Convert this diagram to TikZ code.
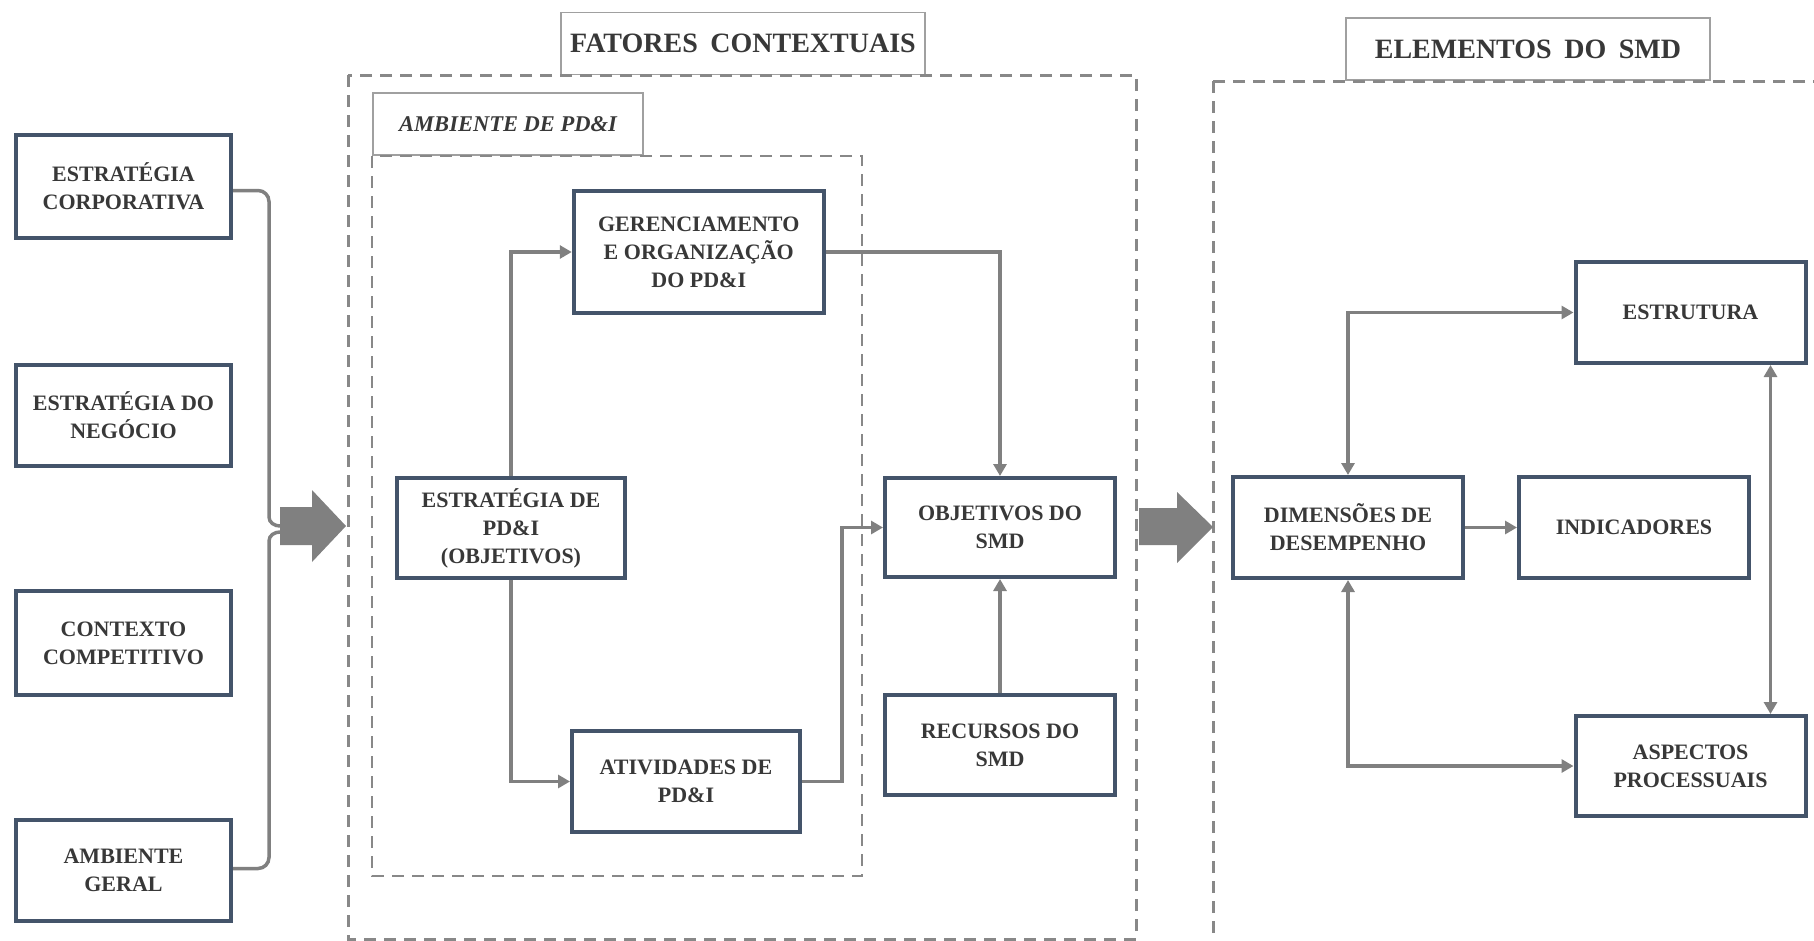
\documentclass[tikz,border=0pt]{standalone}
\usepackage{fontspec}
\setmainfont{Liberation Serif}
\usetikzlibrary{arrows.meta,calc}
\definecolor{boxline}{HTML}{44546A}
\definecolor{txt}{HTML}{383838}
\definecolor{linkgray}{HTML}{808080}
\definecolor{framegray}{HTML}{888888}
\definecolor{lblgray}{HTML}{A0A0A0}

\begin{document}
\begin{tikzpicture}[x=1pt,y=-1pt,
  block/.style={draw=boxline, line width=4pt, fill=white, text=txt,
    font=\fontsize{22}{28}\selectfont\bfseries, align=center,
    minimum width=230pt, minimum height=101pt, inner sep=0pt},
  sideblock/.style={block, minimum width=215pt},
  heading/.style={draw=lblgray, line width=1.5pt, fill=white, text=txt,
    font=\fontsize{28}{32}\selectfont\bfseries, inner sep=0pt,
    minimum width=364pt, minimum height=62pt},
  subheading/.style={draw=lblgray, line width=1.5pt, fill=white, text=txt,
    font=\fontsize{22.5}{26}\selectfont\bfseries\itshape, inner sep=0pt,
    minimum width=270pt, minimum height=62pt},
  frame/.style={draw=framegray, line width=3pt, dash pattern=on 12pt off 8pt},
  innerframe/.style={draw=framegray, line width=2.5pt, dash pattern=on 12pt off 8pt},
  link/.style={draw=linkgray, line width=3.5pt, -{Triangle[length=12pt,width=13pt]}},
  twoway/.style={draw=linkgray, line width=3.5pt,
    {Triangle[length=12pt,width=13pt]}-{Triangle[length=12pt,width=13pt]}},
  bracket/.style={draw=linkgray, line width=3.5pt},
  bigarrow/.style={fill=linkgray}
]
\useasboundingbox (0,0) rectangle (1814,940);

% group frames and their titles
\node[heading] (fatores) at (743,43.5) {FATORES\hspace{0.45em}CONTEXTUAIS};
\node[heading] (elementos) at (1528,49) {ELEMENTOS\hspace{0.45em}DO\hspace{0.45em}SMD};
\node[subheading] (ambpdi) at (508,124) {AMBIENTE DE PD\&I};
\begin{scope}
  \clip (0,0) rectangle (1814,940);
  \draw[frame] (348,75) rectangle (1136,939);
  \draw[frame] (1213,81) rectangle (1840,980);
\end{scope}
\draw[innerframe] (372,156) rectangle (862,876);

% external factors
\node[sideblock, minimum height=103pt] (corp) at (123.5,186.5) {ESTRATÉGIA\\CORPORATIVA};
\node[sideblock] (negocio) at (123.5,415) {ESTRATÉGIA DO\\NEGÓCIO};
\node[sideblock, minimum height=104pt] (contexto) at (123.5,643) {CONTEXTO\\COMPETITIVO};
\node[sideblock] (geral) at (123.5,870.5) {AMBIENTE\\GERAL};

% R&D environment
\node[block, minimum width=250pt, minimum height=122pt] (ger) at (698.75,252) {GERENCIAMENTO\\E ORGANIZAÇÃO\\DO PD\&I};
\node[block, minimum width=228pt, minimum height=100pt] (estpdi) at (511,528) {ESTRATÉGIA DE\\PD\&I\\(OBJETIVOS)};
\node[block, minimum width=228pt] (ativ) at (686,781.5) {ATIVIDADES DE\\PD\&I};
\node[block, minimum height=99pt] (obj) at (1000,527.5) {OBJETIVOS DO\\SMD};
\node[block, minimum height=100pt] (rec) at (1000,745) {RECURSOS DO\\SMD};

% system elements
\node[block] (dim) at (1348,527.5) {DIMENSÕES DE\\DESEMPENHO};
\node[block] (ind) at (1634,527.5) {INDICADORES};
\node[block] (estr) at (1690.5,312.5) {ESTRUTURA};
\node[block, minimum height=100pt] (asp) at (1690.5,766) {ASPECTOS\\PROCESSUAIS};

% brace gathering the external factors
\coordinate (tipA) at (280,526);
\coordinate (tipB) at (280,532);
\draw[bracket] ([yshift=-4pt]corp.east) -- ++(25,0) to[out=0,in=90] ++(11,11) -- (269,517) to[out=-90,in=180] (tipA);
\draw[bracket] ([yshift=2pt]geral.east) -- ++(25,0) to[out=0,in=-90] ++(11,-11) -- (269,541) to[out=90,in=180] (tipB);

% block arrows between the groups
\fill[bigarrow] (280,507) -- (312,507) -- (312,490) -- (346,526) -- (312,562) -- (312,545) -- (280,545) -- cycle;
\fill[bigarrow] (1139,508) -- (1177,508) -- (1177,492) -- (1213,527) -- (1177,563) -- (1177,545) -- (1139,545) -- cycle;

% connectors
\draw[link] (estpdi.north) |- (ger.west);
\draw[link] (estpdi.south) |- (ativ.west);
\draw[link] (ger.east) -| (obj.north);
\draw[link] (ativ.east) -- ++(40,0) |- (obj.west);
\draw[link] (rec.north) -- (obj.south);
\draw[link] (dim.east) -- (ind.west);
\draw[twoway] (dim.north) |- (estr.west);
\draw[twoway] (dim.south) |- (asp.west);
\draw[twoway] ([xshift=80pt]estr.south) -- ([xshift=80pt]asp.north);
\end{tikzpicture}
\end{document}
